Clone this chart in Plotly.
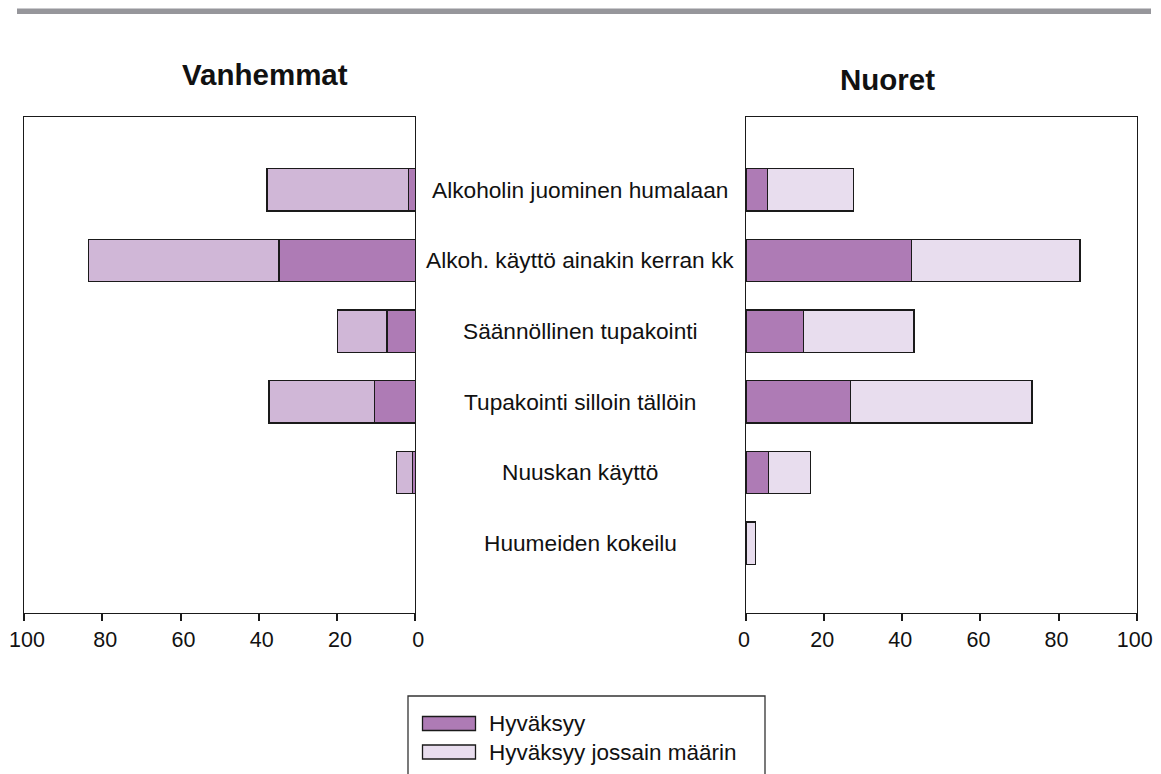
import plotly.graph_objects as go

# data
categories = ["Alkoholin juominen humalaan", "Alkoh. käyttö ainakin kerran kk",
              "Säännöllinen tupakointi", "Tupakointi silloin tällöin",
              "Nuuskan käyttö", "Huumeiden kokeilu"]
parents_accept = [1.7, 34.8, 7.2, 10.5, 0.7, 0]
parents_some = [36.2, 48.7, 12.6, 26.9, 4.1, 0]
youth_accept = [5.5, 42.3, 14.8, 26.7, 5.7, 0]
youth_some = [22.0, 43.2, 28.2, 46.5, 10.8, 2.5]
tick_vals = [0, 20, 40, 60, 80, 100]
legend_names = ["Hyväksyy", "Hyväksyy jossain määrin"]

FONT = "Liberation Sans, Arial, Helvetica, sans-serif"
dark = "#ae7bb5"
light_left = "#d0b7d7"
light_right = "#e8ddee"
W, H = 1161, 774
OFF = 8  # page body margin pushes the plot 8px right/down

ypos = list(range(len(categories)))

def px(x):
    return (x - OFF) / W

def py(y):
    return 1 - (y - OFF) / H

fig = go.Figure()
bar_line = dict(color="#1a1a1a", width=1.3)
fig.add_trace(go.Bar(y=ypos, x=parents_accept, orientation="h", name=legend_names[0],
                     marker=dict(color=dark, line=bar_line), width=0.6,
                     xaxis="x", yaxis="y", showlegend=False))
fig.add_trace(go.Bar(y=ypos, x=parents_some, orientation="h", name=legend_names[1],
                     marker=dict(color=light_left, line=bar_line), width=0.6,
                     xaxis="x", yaxis="y", showlegend=False))
fig.add_trace(go.Bar(y=ypos, x=youth_accept, orientation="h", name=legend_names[0],
                     marker=dict(color=dark, line=bar_line), width=0.6,
                     xaxis="x2", yaxis="y2", showlegend=False))
fig.add_trace(go.Bar(y=ypos, x=youth_some, orientation="h", name=legend_names[1],
                     marker=dict(color=light_right, line=bar_line), width=0.6,
                     xaxis="x2", yaxis="y2", showlegend=False))

ydom = [py(613), py(117)]
axis_common = dict(showline=True, linecolor="#1a1a1a", linewidth=1.3, mirror=True,
                   showgrid=False, zeroline=False, automargin=False)
xcommon = dict(axis_common, tickvals=tick_vals, ticks="outside", ticklen=7,
               tickwidth=1.5, tickcolor="#1a1a1a", ticklabeloverflow="allow",
               tickfont=dict(family=FONT, size=21.5, color="#111"))
ycommon = dict(axis_common, range=[5.99, -1.03], showticklabels=False, ticks="",
               domain=ydom)

fig.update_layout(
    width=W, height=H,
    margin=dict(l=0, r=0, t=0, b=0, pad=0, autoexpand=False),
    paper_bgcolor="white", plot_bgcolor="white",
    barmode="stack", bargap=0.4,
    xaxis=dict(xcommon, domain=[px(24), px(415.3)], range=[100, 0], anchor="y",
               ticklabelshift=-3),
    xaxis2=dict(xcommon, domain=[px(746), px(1136.7)], range=[0, 100], anchor="y2",
                ticklabelshift=-2),
    yaxis=dict(ycommon, anchor="x"),
    yaxis2=dict(ycommon, anchor="x2", matches="y"),
)

# category labels centred between the panels
for i, cat in enumerate(categories):
    fig.add_annotation(x=px(580), xref="paper", y=i, yref="y", text=cat,
                       showarrow=False, xanchor="center", yanchor="middle",
                       font=dict(family=FONT, size=22.7, color="#111"))

# panel titles
fig.add_annotation(x=px(265), y=py(75), xref="paper", yref="paper", text="<b>Vanhemmat</b>",
                   showarrow=False, xanchor="center", yanchor="middle",
                   font=dict(family=FONT, size=29.5, color="#111"))
fig.add_annotation(x=px(887), y=py(80), xref="paper", yref="paper", text="<b>Nuoret</b>",
                   showarrow=False, xanchor="center", yanchor="middle",
                   font=dict(family=FONT, size=29.5, color="#111"))

# grey rule at the top
fig.add_shape(type="rect", xref="paper", yref="paper", x0=px(17), x1=px(1151),
              y0=py(14), y1=py(8.5), fillcolor="#96969b", line=dict(width=0))

# legend box (runs off the bottom of the page)
fig.add_shape(type="rect", xref="paper", yref="paper", x0=px(408), x1=px(765),
              y0=py(800), y1=py(696), fillcolor="rgba(0,0,0,0)",
              line=dict(color="#333", width=1.3))
for k, (name, col) in enumerate(zip(legend_names, [dark, light_right])):
    yc = 723.5 + k * 28.5
    fig.add_shape(type="rect", xref="paper", yref="paper", x0=px(422.5), x1=px(475.5),
                  y0=py(yc + 7), y1=py(yc - 7), fillcolor=col,
                  line=dict(color="#1a1a1a", width=1.3))
    fig.add_annotation(x=px(487), y=py(yc), xref="paper", yref="paper", text=name,
                       showarrow=False, xanchor="left", yanchor="middle",
                       font=dict(family=FONT, size=22.5, color="#111"))

fig.write_html("out.html")
